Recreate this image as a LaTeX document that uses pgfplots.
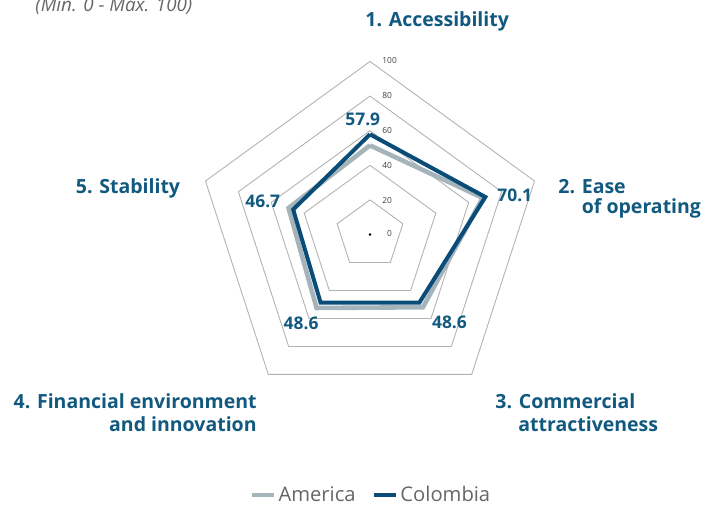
\documentclass[border=0pt]{standalone}
\usepackage{pgfplots}
\pgfplotsset{compat=1.18}
\usepackage{fontspec}
\setmainfont{Open Sans}
\definecolor{colline}{HTML}{0A4C78}
\definecolor{coltext}{HTML}{12597F}
\definecolor{amer}{HTML}{A5B4BB}
\definecolor{gridc}{HTML}{B3B3B3}
\definecolor{legtext}{HTML}{666666}
\begin{document}
\begin{tikzpicture}
\begin{axis}[
  x=0.865pt, y=0.865pt,
  xmin=-100, xmax=100, ymin=-100, ymax=100,
  hide axis, clip=false,
  anchor=origin, at={(185pt,135.75pt)},
  legend style={at={(axis cs:0.8,-150.8)}, anchor=center, draw=none, fill=none,
    legend columns=2, font=\fontsize{10.1}{11}\selectfont\color{legtext},
    /tikz/every even column/.append style={column sep=7pt},
    nodes={inner sep=1.2pt}},
  legend image code/.code={\draw[#1, line width=2pt] (0pt,0pt) -- (11pt,0pt);},
]
% pentagon grid
\addplot[gridc, line width=0.45pt, data cs=polar, forget plot] coordinates {(90,20) (18,20) (-54,20) (-126,20) (162,20) (90,20)};
\addplot[gridc, line width=0.45pt, data cs=polar, forget plot] coordinates {(90,40) (18,40) (-54,40) (-126,40) (162,40) (90,40)};
\addplot[gridc, line width=0.45pt, data cs=polar, forget plot] coordinates {(90,60) (18,60) (-54,60) (-126,60) (162,60) (90,60)};
\addplot[gridc, line width=0.45pt, data cs=polar, forget plot] coordinates {(90,80) (18,80) (-54,80) (-126,80) (162,80) (90,80)};
\addplot[gridc, line width=0.45pt, data cs=polar, forget plot] coordinates {(90,100) (18,100) (-54,100) (-126,100) (162,100) (90,100)};
\addplot[only marks, mark=*, mark size=0.45pt, black, forget plot] coordinates {(0,0)};
% series
\addplot[amer, line width=2.3pt, data cs=polar, line join=miter] coordinates {(90,51.5) (18,68.5) (-54,52) (-126,52.5) (162,49.5) (90,51.5)};
\addlegendentry{America}
\addplot[colline, line width=2pt, data cs=polar, line join=miter] coordinates {(90,57.9) (18,70.1) (-54,48.6) (-126,48.6) (162,46.7) (90,57.9)};
\addlegendentry{Colombia}
\end{axis}
\begin{scope}[shift={(0,253pt)}, x=0.5pt, y=-0.5pt]
  \tikzset{lab/.style={inner sep=0pt, text=coltext, font=\fontsize{9.75}{11}\selectfont\bfseries},
           val/.style={inner sep=0pt, text=coltext, font=\fontsize{8.7}{10}\selectfont\bfseries},
           tk/.style={inner sep=0pt, text=black!75, font=\fontsize{4.2}{5}\selectfont}}
  \node[anchor=base west, inner sep=0pt, text=black!60, font=\fontsize{9.4}{11}\selectfont\itshape] at (35,12) {(Min. 0 - Max. 100)};
  \node[lab, anchor=base west] at (365,26.7) {1. Accessibility};
  \node[lab, anchor=base west] at (558,193.3) {2. Ease};
  \node[lab, anchor=base west] at (581.5,214) {of operating};
  \node[lab, anchor=base west] at (495,408.3) {3. Commercial};
  \node[lab, anchor=base west] at (518,431.7) {attractiveness};
  \node[lab, anchor=base east] at (257,408.3) {4. Financial environment};
  \node[lab, anchor=base east] at (257,431.7) {and innovation};
  \node[lab, anchor=base east] at (180.5,193.3) {5. Stability};
  \node[val, anchor=base west] at (345,126) {57.9};
  \node[val, anchor=base west] at (497,201.7) {70.1};
  \node[val, anchor=base west] at (431.7,328.3) {48.6};
  \node[val, anchor=base west] at (283.3,330) {48.6};
  \node[val, anchor=base west] at (245,207.7) {46.7};
  \node[tk, anchor=base west] at (382,63.3) {100};
  \node[tk, anchor=base west] at (382,98.3) {80};
  \node[tk, anchor=base west] at (382,133.3) {60};
  \node[tk, anchor=base west] at (382,168.3) {40};
  \node[tk, anchor=base west] at (382,203.3) {20};
  \node[tk, anchor=base west] at (386.7,236.7) {0};
\end{scope}
\pgfresetboundingbox
\path (0,0) rectangle (353.5pt,253pt);
\end{tikzpicture}
\end{document}
